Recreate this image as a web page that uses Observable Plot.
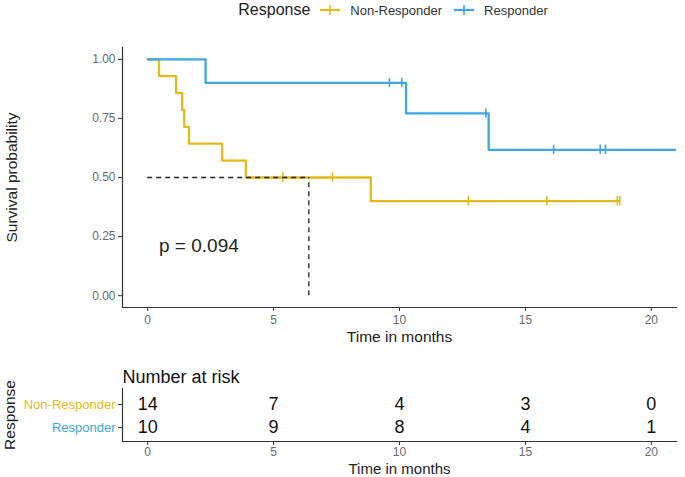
<!DOCTYPE html>
<html><head><meta charset="utf-8">
<script src="https://cdn.jsdelivr.net/npm/d3@7"></script>
<script src="https://cdn.jsdelivr.net/npm/@observablehq/plot@0.6"></script>
<style>
body{margin:0;background:#fff;font-family:"Liberation Sans",Arial,sans-serif;}
#legend{width:685px;height:20px;display:flex;align-items:center;justify-content:center;padding-left:122px;padding-right:9px;box-sizing:border-box;color:#222;margin-bottom:2px;}
#legend .title{font-size:16px;margin-right:10px;}
#legend .lab{font-size:13px;margin-left:10px;margin-right:12px;color:#333;}
#legend svg{display:block;}
#main svg,#risk svg{display:block;}
</style></head><body>
<div id="legend"></div><div id="main"></div><div id="risk"></div>
<script>
// ---- data ----
const groups = ["Non-Responder", "Responder"];
const groupColors = ["#E2BA1C", "#3FA6E0"];
const legendTitle = "Response";

// Kaplan-Meier step points (time in months, survival probability)
const nrTime = [0, 0.45, 1.13, 1.37, 1.45, 1.64, 2.96, 3.9, 8.86, 18.7];
const nrSurv = [1, 0.929, 0.857, 0.786, 0.714, 0.643, 0.571, 0.5, 0.4, 0.4];
const nrCensorTime = [5.37, 7.34, 12.73, 15.85, 18.65, 18.75];
const nrCensorSurv = [0.5, 0.5, 0.4, 0.4, 0.4, 0.4];

const rTime = [0, 2.3, 10.26, 13.54, 21];
const rSurv = [1, 0.9, 0.771, 0.617, 0.617];
const rCensorTime = [9.6, 10.09, 13.43, 16.12, 17.97, 18.18];
const rCensorSurv = [0.9, 0.9, 0.771, 0.617, 0.617, 0.617];

const medianTime = 6.4;
const medianSurv = 0.5;
const pValueText = "p = 0.094";
const pValueX = 0.45;
const pValueY = 0.21;

const xTicks = [0, 5, 10, 15, 20];
const yTicks = [0, 0.25, 0.5, 0.75, 1];
const xLabel = "Time in months";
const yLabel = "Survival probability";

const riskTitle = "Number at risk";
const riskTimes = [0, 5, 10, 15, 20];
const riskNR = [14, 7, 4, 3, 0];
const riskR = [10, 9, 8, 4, 1];

// ---- derived tables ----
const curves = [
  nrTime.map((t, i) => ({t, s: nrSurv[i]})),
  rTime.map((t, i) => ({t, s: rSurv[i]}))
];
const censors = [
  nrCensorTime.map((t, i) => ({t, s: nrCensorSurv[i]})),
  rCensorTime.map((t, i) => ({t, s: rCensorSurv[i]}))
];
const riskRows = riskTimes.flatMap((t, i) => [
  {time: t, group: groups[0], n: riskNR[i]},
  {time: t, group: groups[1], n: riskR[i]}
]);

const FONT = "Liberation Sans, Arial, sans-serif";
const AX = "#333";
const TICKC = "#6a6a6a";
const xDomain = [-1, 21];

// ---- legend ----
const legend = document.getElementById("legend");
legend.innerHTML = `<span class="title">${legendTitle}</span>` + groups.map((g, i) =>
  `<svg width="20" height="12"><line x1="0" x2="20" y1="6" y2="6" stroke="${groupColors[i]}" stroke-width="2.2"/><line x1="10" x2="10" y1="1" y2="11" stroke="${groupColors[i]}" stroke-width="1.6"/></svg><span class="lab">${g}</span>`
).join("");

// ---- main plot ----
const lineMarks = curves.map((c, i) => Plot.line(c, {x: "t", y: "s", curve: "step-after", stroke: groupColors[i], strokeWidth: 2.3, clip: true}));
const censorMarks = censors.map((c, i) => Plot.ruleX(c, {x: "t", y1: d => d.s - 0.02, y2: d => d.s + 0.02, stroke: groupColors[i], strokeWidth: 1.6}));

const main = Plot.plot({
  width: 685, height: 328,
  marginLeft: 122, marginRight: 9, marginTop: 25, marginBottom: 43,
  style: {fontFamily: FONT, background: "#fff", overflow: "visible"},
  x: {domain: xDomain},
  y: {domain: [-0.05, 1.05]},
  marks: [
    ...lineMarks,
    ...censorMarks,
    Plot.ruleY([medianSurv], {x1: 0, x2: medianTime, stroke: "#222", strokeWidth: 1.3, strokeDasharray: "5,4"}),
    Plot.ruleX([medianTime], {y1: 0, y2: medianSurv, stroke: "#222", strokeWidth: 1.3, strokeDasharray: "5,4"}),
    Plot.text([pValueText], {x: pValueX, y: pValueY, text: d => d, textAnchor: "start", fontSize: 19, fill: "#222"}),
    Plot.frame({anchor: "left", stroke: AX, strokeWidth: 1.2}),
    Plot.frame({anchor: "bottom", stroke: AX, strokeWidth: 1.2}),
    Plot.axisX({ticks: xTicks, tickSize: 4, tickPadding: 4, fontSize: 12, fill: TICKC, stroke: AX, label: null}),
    Plot.axisY({ticks: yTicks, tickSize: 4, tickPadding: 3, fontSize: 12, fill: TICKC, stroke: AX, label: null, tickFormat: d3.format(".2f")}),
    Plot.text([xLabel], {frameAnchor: "bottom", dy: 34, text: d => d, fontSize: 15.5, fill: "#222"}),
    Plot.text([yLabel], {frameAnchor: "left", dx: -110, rotate: -90, textAnchor: "middle", text: d => d, fontSize: 15.5, fill: "#222"})
  ]
});
document.getElementById("main").append(main);

// ---- risk table ----
const risk = Plot.plot({
  width: 685, height: 127,
  marginLeft: 122, marginRight: 9, marginTop: 38, marginBottom: 36,
  style: {fontFamily: FONT, background: "#fff", overflow: "visible"},
  x: {domain: xDomain},
  y: {type: "point", domain: groups, range: [54, 77], padding: 0},
  marks: [
    Plot.text(riskRows, {x: "time", y: "group", text: "n", fontSize: 18, fill: "#111"}),
    Plot.frame({anchor: "left", stroke: AX, strokeWidth: 1.2}),
    Plot.frame({anchor: "bottom", stroke: AX, strokeWidth: 1.2}),
    Plot.axisX({ticks: xTicks, tickSize: 4, tickPadding: 2, fontSize: 12, fill: TICKC, stroke: AX, label: null}),
    Plot.axisY({tickSize: 4, stroke: AX, tickFormat: () => "", label: null}),
    ...groups.map((g, i) => Plot.text([g], {y: d => d, text: d => d, frameAnchor: "left", textAnchor: "end", dx: -7, fontSize: 13, fill: groupColors[i]})),
    Plot.text([riskTitle], {frameAnchor: "top-left", dy: -18, textAnchor: "start", text: d => d, fontSize: 18, fill: "#111"}),
    Plot.text([xLabel], {frameAnchor: "bottom", dy: 32, text: d => d, fontSize: 15, fill: "#222"}),
    Plot.text([legendTitle], {frameAnchor: "left", dx: -112, rotate: -90, textAnchor: "middle", text: d => d, fontSize: 15.5, fill: "#222"})
  ]
});
document.getElementById("risk").append(risk);
</script>
</body></html>
